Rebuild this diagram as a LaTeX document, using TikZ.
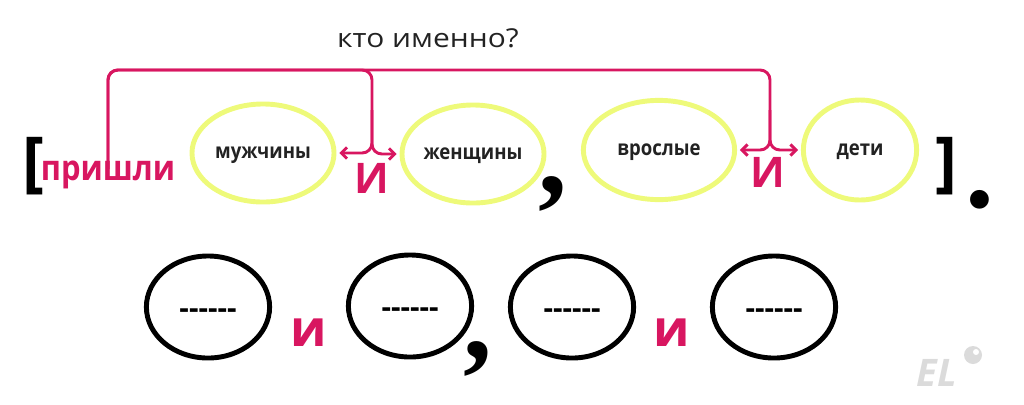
\documentclass[tikz,border=0pt]{standalone}
\usepackage{fontspec}
\setmainfont{Open Sans}
\newfontfamily\narrowfont[FakeStretch=0.88]{Open Sans}
\newfontfamily\widefont[FakeStretch=1.15]{Open Sans}
\newfontfamily\serifpunct{Liberation Serif}
\usetikzlibrary{shapes.geometric,arrows.meta}
\definecolor{pinkc}{RGB}{216,22,96}
\definecolor{lime}{RGB}{238,250,122}
\definecolor{ink}{RGB}{34,34,34}

\begin{document}
\begin{tikzpicture}[x=0.025cm,y=-0.025cm,
  word/.style={font=\narrowfont\bfseries\fontsize{15}{18}\selectfont, text=ink, text height=1.5ex, text depth=0pt},
  oval/.style={ellipse, draw=lime, line width=3.5pt, inner sep=0, word},
  slot/.style={ellipse, draw=black, line width=3.5pt, inner sep=0, minimum width=3.08cm, minimum height=2.55cm,
    font=\bfseries\fontsize{21}{24}\selectfont, text height=16.5pt, text depth=0pt},
  conj/.style={font=\bfseries\fontsize{30}{36}\selectfont, text=pinkc, inner sep=0},
  punct/.style={font=\serifpunct\bfseries\fontsize{82}{90}\selectfont, inner sep=0, anchor=base},
  brk/.style={font=\bfseries\fontsize{47}{52}\selectfont, inner sep=0},
  link/.style={draw=pinkc, line width=2.1pt, rounded corners=7pt, -{Straight Barb[length=4pt,width=8pt]}, shorten >=2pt}]
\useasboundingbox (0,0) rectangle (1024,404);

\node[font=\widefont\fontsize{18.5}{22}\selectfont, text=ink, text height=1.5ex, text depth=0pt] (q) at (428,42) {кто именно?};

% first line
\node[brk] (lb) at (33,166) {[};
\node[font=\narrowfont\bfseries\fontsize{25}{30}\selectfont, text=pinkc, inner sep=0, text height=1.5ex, text depth=0pt] (pr) at (108,175) {пришли};
\node[oval, minimum width=3.55cm, minimum height=2.45cm] (e1) at (263,153) {мужчины};
\node[oval, minimum width=3.55cm, minimum height=2.45cm] (e2) at (473,154) {женщины};
\node[oval, minimum width=3.78cm, minimum height=2.48cm] (e3) at (659,150) {врослые};
\node[oval, minimum width=2.83cm, minimum height=2.5cm] (e4) at (860,150) {дети};
\node[conj] (i1) at (372,178) {И};
\node[conj] (i2) at (768,172) {И};
\node[punct] (c1) at (553,193) {,};
\node[brk] (rb) at (946,166) {]};
\node[punct] (p1) at (980,207) {.};

% bracket of the question
\coordinate (t1) at (372,70);
\coordinate (t2) at (770,70);
\draw[link] (pr.north) |- (t1) |- (e1.east);
\draw[link] (t1) ++(0,40) |- (e2.west);
\draw[link] (pr.north) |- (t2) |- (e3.east);
\draw[link] (t2) ++(0,40) |- (e4.west);

% scheme
\node[slot] (s1) at (208,307) {-{}-{}-{}-{}-{}-};
\node[slot] (s2) at (410,306) {-{}-{}-{}-{}-{}-};
\node[slot] (s3) at (572,307) {-{}-{}-{}-{}-{}-};
\node[slot] (s4) at (774,307) {-{}-{}-{}-{}-{}-};
\node[conj, font=\bfseries\fontsize{36}{40}\selectfont] (i3) at (309,333) {и};
\node[conj, font=\bfseries\fontsize{36}{40}\selectfont] (i4) at (672,333) {и};
\node[punct] (c2) at (478,358) {,};

% logo
\node[font=\bfseries\itshape\fontsize{27}{30}\selectfont, text=black!14, inner sep=0] (logo) at (937,373) {EL};
\fill[black!14] (973,355) circle (9);
\fill[white] (976,352) circle (3);
\end{tikzpicture}
\end{document}
